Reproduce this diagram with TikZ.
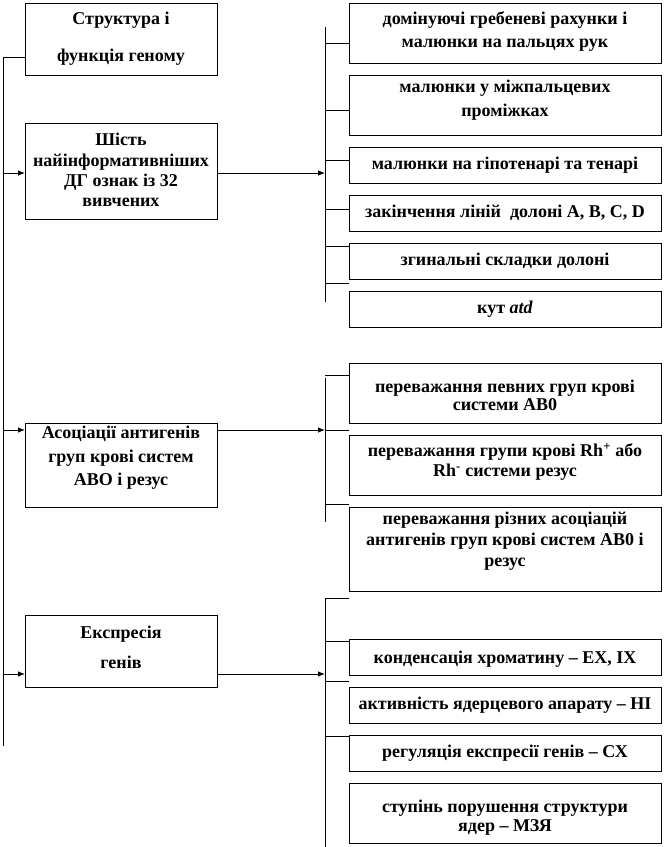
\documentclass[tikz,border=0pt]{standalone}
\usepackage{fontspec}
\setmainfont{Liberation Serif}
\usetikzlibrary{arrows.meta}
\tikzset{
  box/.style={draw, line width=0.8pt, inner sep=0pt, anchor=north west},
  txt/.style={align=center, inner sep=0pt, font=\bfseries\fontsize{18}{#1}\selectfont},
  txt/.default=20,
  ln/.style={line width=0.8pt},
  arr/.style={line width=0.8pt, -{Latex[length=7pt,width=5.5pt]}}
}
\begin{document}
\begin{tikzpicture}[x=1pt,y=-1pt]
\useasboundingbox (0,0) rectangle (664,847);
% left boxes
\node[box, minimum width=192pt, minimum height=72pt] (L1) at (25,3) {};
\node[box, minimum width=192pt, minimum height=96pt] (L2) at (25,123) {};
\node[box, minimum width=192pt, minimum height=84pt] (L3) at (25,423) {};
\node[box, minimum width=192pt, minimum height=72pt] (L4) at (25,615) {};
% right boxes
\node[box, minimum width=312pt, minimum height=60pt] (R1) at (349,3) {};
\node[box, minimum width=312pt, minimum height=60pt] (R2) at (349,75) {};
\node[box, minimum width=312pt, minimum height=36pt] (R3) at (349,147) {};
\node[box, minimum width=312pt, minimum height=36pt] (R4) at (349,195) {};
\node[box, minimum width=312pt, minimum height=36pt] (R5) at (349,243) {};
\node[box, minimum width=312pt, minimum height=36pt] (R6) at (349,291) {};
\node[box, minimum width=312pt, minimum height=60pt] (R7) at (349,363) {};
\node[box, minimum width=312pt, minimum height=60pt] (R8) at (349,435) {};
\node[box, minimum width=312pt, minimum height=84pt] (R9) at (349,507) {};
\node[box, minimum width=312pt, minimum height=36pt] (R10) at (349,639) {};
\node[box, minimum width=312pt, minimum height=36pt] (R11) at (349,687) {};
\node[box, minimum width=312pt, minimum height=36pt] (R12) at (349,735) {};
\node[box, minimum width=312pt, minimum height=60pt] (R13) at (349,783) {};
% texts
\node[txt=37] (tL1) at (121,38.5) {Структура і\\функція геному};
\node[txt=20.3] (tL2) at (121,170) {Шість\\найінформативніших\\ДГ ознак із 32\\вивчених};
\node[txt=23.5] (tL3) at (121,458) {Асоціації антигенів\\груп крові систем\\АВО і резус};
\node[txt=30] (tL4) at (121,647) {Експресія\\генів};
\node[txt=23] (tR1) at (505,31.5) {домінуючі гребеневі рахунки і\\малюнки на пальцях рук};
\node[txt=24] (tR2) at (505,100) {малюнки у міжпальцевих\\проміжках};
\node[txt] (tR3) at (505,165) {малюнки на гіпотенарі та тенарі};
\node[txt] (tR4) at (505,213) {закінчення ліній\ \ долоні A, B, C, D};
\node[txt] (tR5) at (505,261) {згинальні складки долоні};
\node[txt] (tR6) at (505,309) {кут \textit{atd}};
\node[txt=18] (tR7) at (505,395) {переважання певних груп крові\\системи АВ0};
\node[txt=20] (tR8) at (505,462) {переважання групи крові Rh\textsuperscript{+} або\\Rh\textsuperscript{-} системи резус};
\node[txt=21] (tR9) at (505,541) {переважання різних асоціацій\\антигенів груп крові систем АВ0 і\\резус};
\node[txt] (tR10) at (505,659) {конденсація хроматину – ЕХ, ІХ};
\node[txt] (tR11) at (505,705) {активність ядерцевого апарату – НІ};
\node[txt] (tR12) at (505,753) {регуляція експресії генів – СХ};
\node[txt=19] (tR13) at (505,817.5) {ступінь порушення структури\\ядер – МЗЯ};
% left spine
\coordinate (s1) at (3,57);
\coordinate (s2) at (3,746);
\coordinate (a2) at (3,173);
\coordinate (a3) at (3,430);
\coordinate (a4) at (3,674);
\draw[ln] (s1 -| L1.west) -- (s1) -- (s2);
\draw[arr] (a2) -- (a2 -| L2.west);
\draw[arr] (a3) -- (a3 -| L3.west);
\draw[arr] (a4) -- (a4 -| L4.west);
% right arrows
\coordinate (b2) at (325,173);
\coordinate (b3) at (325,430);
\coordinate (b4) at (325,674);
\draw[arr] (b2 -| L2.east) -- (b2);
\draw[arr] (b3 -| L3.east) -- (b3);
\draw[arr] (b4 -| L4.east) -- (b4);
% group 1 spine
\coordinate (g1t) at (325,27);
\coordinate (g1b) at (325,302);
\draw[ln] (g1t) -- (g1b);
\foreach \y in {43,110,160,209,246,283} \draw[ln] (325,\y) -- (349,\y);
% group 2 spine
\coordinate (g2t) at (325,378);
\coordinate (g2b) at (325,522);
\draw[ln] (g2t) -- (g2b);
\foreach \y in {375,430,504} \draw[ln] (325,\y) -- (349,\y);
% group 3 spine
\coordinate (g3t) at (325,598);
\coordinate (g3b) at (325,847);
\draw[ln] (349,598) -- (g3t) -- (g3b);
\foreach \y in {641,681,736} \draw[ln] (325,\y) -- (349,\y);
\end{tikzpicture}
\end{document}
